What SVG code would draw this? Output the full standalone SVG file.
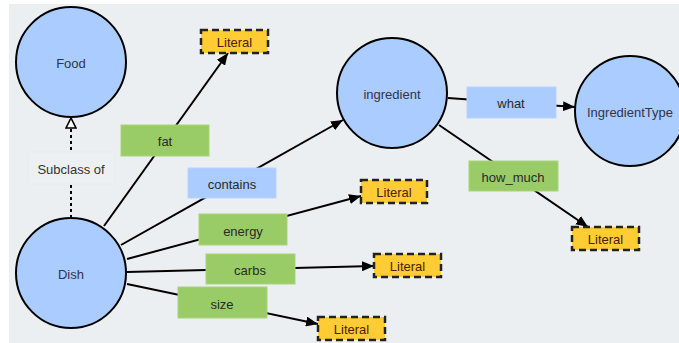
<svg xmlns="http://www.w3.org/2000/svg" width="679" height="343" viewBox="0 0 679 343">
<defs>
<style>
.node{fill:#aaccff;stroke:#000;stroke-width:2}
.ntext{font-family:"Liberation Sans",Arial,sans-serif;font-size:13px;fill:#33334a;text-anchor:middle;dominant-baseline:central}
.lit{fill:#ffcc33;stroke:#222;stroke-width:2.5;stroke-dasharray:7,4}
.ltext{font-family:"Liberation Sans",Arial,sans-serif;font-size:13px;fill:#4a1a10;text-anchor:middle;dominant-baseline:central}
.dp{fill:#99cc66;stroke:#a8d47a;stroke-width:1}
.op{fill:#aaccff;stroke:#b8d4ff;stroke-width:1}
.etext{font-family:"Liberation Sans",Arial,sans-serif;font-size:13px;fill:#2a2a2a;text-anchor:middle;dominant-baseline:central}
.edge{stroke:#000;stroke-width:2;fill:none}
</style>
<marker id="arr" viewBox="0 0 12 10" refX="12" refY="5" markerWidth="6" markerHeight="5" orient="auto" markerUnits="strokeWidth">
<path d="M0,0 L12,5 L0,10 z" fill="#000"/>
</marker>
<marker id="tri" viewBox="0 0 12 12" refX="11" refY="6" markerWidth="6" markerHeight="6" orient="auto" markerUnits="strokeWidth">
<path d="M1,1 L11,6 L1,11 z" fill="#fff" stroke="#000" stroke-width="1.6"/>
</marker>
</defs>
<rect x="0" y="0" width="679" height="343" fill="#ffffff"/>
<rect x="9" y="4" width="670" height="339" fill="#eceff1"/>

<g id="connectors">
<line class="edge" x1="71" y1="150" x2="71" y2="118" stroke-dasharray="3,3" marker-end="url(#tri)"/>
<line class="edge" x1="71" y1="218" x2="71" y2="185" stroke-dasharray="3,3"/>
<line class="edge" x1="104" y1="226" x2="228" y2="53" marker-end="url(#arr)"/>
<line class="edge" x1="121" y1="245" x2="343" y2="120" marker-end="url(#arr)"/>
<line class="edge" x1="127" y1="259" x2="361" y2="196" marker-end="url(#arr)"/>
<line class="edge" x1="127" y1="272" x2="374" y2="266" marker-end="url(#arr)"/>
<line class="edge" x1="127" y1="284" x2="318" y2="324" marker-end="url(#arr)"/>
<line class="edge" x1="448" y1="98" x2="575" y2="107" marker-end="url(#arr)"/>
<line class="edge" x1="439" y1="125" x2="588" y2="227" marker-end="url(#arr)"/>
</g>

<g id="node-food"><circle class="node" cx="71" cy="62" r="55"/><text class="ntext" x="71" y="63">Food</text></g>
<g id="node-dish"><circle class="node" cx="71" cy="273" r="55"/><text class="ntext" x="71" y="274">Dish</text></g>
<g id="node-ingredient"><circle class="node" cx="392" cy="93" r="55"/><text class="ntext" x="392" y="94">ingredient</text></g>
<g id="node-ingredienttype"><circle class="node" cx="630" cy="111" r="55"/><text class="ntext" x="630" y="112">IngredientType</text></g>

<g id="label-subclass"><rect x="28" y="152" width="87" height="32" fill="#edf0f2" stroke="#e8ebed"/><text class="ntext" x="71" y="169" style="fill:#333">Subclass of</text></g>

<g id="label-fat"><rect class="dp" x="121" y="125" width="88" height="31"/><text class="etext" x="165" y="141">fat</text></g>
<g id="label-contains"><rect class="op" x="188" y="168" width="88" height="30"/><text class="etext" x="232" y="184">contains</text></g>
<g id="label-energy"><rect class="dp" x="199" y="214" width="88" height="31"/><text class="etext" x="243" y="231">energy</text></g>
<g id="label-carbs"><rect class="dp" x="206" y="254" width="89" height="30"/><text class="etext" x="250" y="270">carbs</text></g>
<g id="label-size"><rect class="dp" x="178" y="287" width="89" height="31"/><text class="etext" x="222" y="304">size</text></g>
<g id="label-what"><rect class="op" x="467" y="87" width="89" height="31"/><text class="etext" x="511" y="103">what</text></g>
<g id="label-how_much"><rect class="dp" x="469" y="161" width="89" height="30"/><text class="etext" x="513" y="177">how_much</text></g>

<g id="literal-fat"><rect class="lit" x="201" y="30" width="67" height="23"/><text class="ltext" x="234.5" y="42">Literal</text></g>
<g id="literal-energy"><rect class="lit" x="361" y="180" width="66" height="23"/><text class="ltext" x="394" y="192">Literal</text></g>
<g id="literal-carbs"><rect class="lit" x="374" y="254" width="67" height="23"/><text class="ltext" x="407.5" y="266">Literal</text></g>
<g id="literal-size"><rect class="lit" x="318" y="317" width="67" height="23"/><text class="ltext" x="351.5" y="329">Literal</text></g>
<g id="literal-how_much"><rect class="lit" x="572" y="227" width="67" height="23"/><text class="ltext" x="605.5" y="239">Literal</text></g>
</svg>
